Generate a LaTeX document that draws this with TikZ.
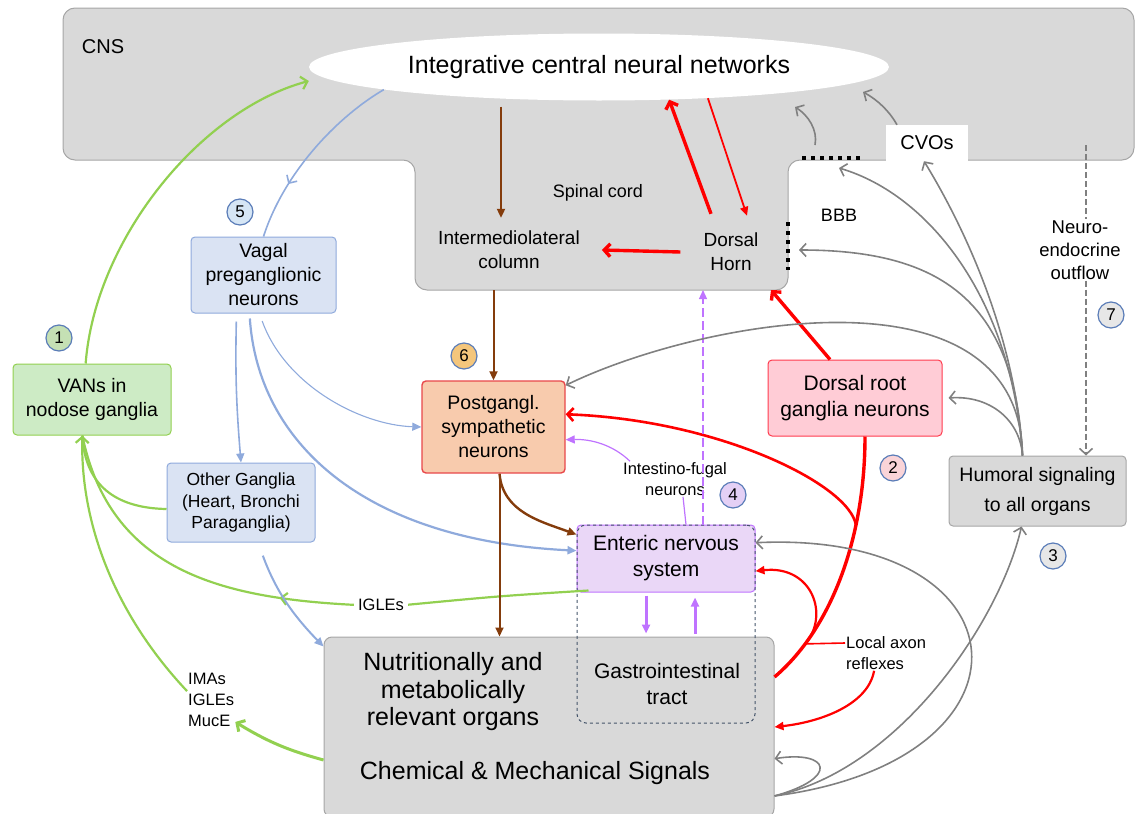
\documentclass[tikz,border=0pt]{standalone}
\usepackage{fontspec}
\setmainfont{Liberation Sans}
\usepackage{tikz}
\usetikzlibrary{positioning, arrows.meta, shapes.geometric, calc, decorations.markings}
\usepackage{xcolor}

\definecolor{cnsgray}{HTML}{D9D9D9}
\definecolor{cnsline}{HTML}{A6A6A6}
\definecolor{vagalfill}{HTML}{DAE3F3}
\definecolor{vagalline}{HTML}{8FAADC}
\definecolor{vanfill}{HTML}{CDEBC5}
\definecolor{postfill}{HTML}{F8CBAD}
\definecolor{postline}{HTML}{E8474A}
\definecolor{drgfill}{HTML}{FFCCD6}
\definecolor{drgline}{HTML}{FF3B4E}
\definecolor{ensfill}{HTML}{EAD7F7}
\definecolor{dashblue}{HTML}{44546A}
\definecolor{vgreen}{HTML}{92D050}
\definecolor{vblue}{HTML}{8FAADC}
\definecolor{vbrown}{HTML}{843C0C}
\definecolor{vred}{HTML}{FF0000}
\definecolor{vviolet}{HTML}{BF73FF}
\definecolor{vgrey}{HTML}{808080}
\definecolor{numblue}{HTML}{5B7DB8}
\definecolor{numgreen}{HTML}{C5E0B4}
\definecolor{numpink}{HTML}{FAD4D8}
\definecolor{numgrey}{HTML}{E7E7E7}
\definecolor{numviolet}{HTML}{E4D0F5}
\definecolor{numblueb}{HTML}{D6E6F5}
\definecolor{numgold}{HTML}{F4C67C}

\newcommand{\fsz}[2]{\fontsize{#1pt}{#2pt}\selectfont}

\begin{document}
\begin{tikzpicture}[
        x=1pt, y=1pt,
        box/.style   = {draw, rounded corners=4pt, align=center, inner sep=0pt, line width=1pt, font=\fsz{19.5}{24}},
        lbl/.style   = {align=center, inner sep=1pt, font=\fsz{19}{24}},
        small/.style = {align=center, inner sep=1pt, font=\fsz{16.5}{21}},
        numc/.style  = {circle, draw=numblue, line width=1.2pt, minimum size=26pt, inner sep=0pt, font=\fsz{17}{19}},
        gline/.style  = {draw=vgreen, line width=2.2pt},
        bline/.style  = {draw=vblue, line width=1.6pt},
        brline/.style = {draw=vbrown, line width=2pt},
        rline/.style  = {draw=vred, line width=2.2pt},
        vline/.style  = {draw=vviolet, line width=1.2pt},
        gyline/.style = {draw=vgrey, line width=1.6pt},
        barb/.style = {-{Straight Barb[length=6pt, width=13pt]}},
        tri/.style  = {-{Triangle[length=9pt, width=8pt]}},
        midtip/.style = {postaction={decorate}, decoration={markings,
            mark=at position #1 with {\arrow{Straight Barb[length=6pt, width=12pt]}}}},
    ]
    \useasboundingbox (0,0) rectangle (1136,-814);

    % CNS and spinal cord
    \draw[draw=cnsline, fill=cnsgray, line width=1pt, rounded corners=12pt]
        (63,-8) -- (1134,-8) -- (1134,-160) -- (788,-160) -- (788,-290)
        -- (415,-290) -- (415,-160) -- (63,-160) -- cycle;
    \coordinate (sc-sw) at (415,-290);
    \coordinate (sc-se) at (788,-290);
    \coordinate (cns-a) at (795,-107);
    \coordinate (cns-b) at (863,-92);
    \coordinate (bbb-top) at (815,-145);
    \coordinate (bbb-h) at (839,-168);
    \coordinate (bbb-v) at (799,-250);
    \coordinate (neuro-src) at (1086,-145);

    \draw[line width=4pt, dash pattern=on 4pt off 5pt] (802,-158) -- (863,-158);
    \draw[line width=4pt, dash pattern=on 4pt off 5pt] (788,-222) -- (788,-270);

    \node[ellipse, fill=white, minimum width=580pt, minimum height=67pt, inner sep=0pt, font=\fsz{25}{30}] (icn) at (599,-67) {Integrative central neural networks};
    \node[fill=white, minimum width=82pt, minimum height=36pt, inner sep=0pt, font=\fsz{20}{24}] (cvo) at (927,-143) {CVOs};

    \node[inner sep=1pt, font=\fsz{20}{24}] (cns) at (103,-47) {CNS};
    \node[lbl, font=\fsz{18}{22}] (spinal) at (598,-193) {Spinal cord};
    \node[lbl] (iml) at (509,-250) {Intermediolateral\\column};
    \node[lbl] (dh) at (731,-252) {Dorsal\\Horn};
    \node[lbl, font=\fsz{18}{22}] (bbb) at (839,-215) {BBB};
    \node[lbl, font=\fsz{18.5}{23}] (neuro) at (1080,-250) {Neuro-\\endocrine\\outflow};

    % boxes
    \node[box, fill=vagalfill, draw=vagalline, minimum width=145pt, minimum height=76pt] (vagal) at (263.5,-275) {Vagal\\preganglionic\\neurons};
    \node[box, fill=vanfill, draw=vgreen, minimum width=158pt, minimum height=71pt] (van) at (92,-399.5) {VANs in\\nodose ganglia};
    \node[box, fill=vagalfill, draw=vagalline, minimum width=148pt, minimum height=79pt, font=\fsz{17.5}{21.5}] (oth) at (241,-502.5) {Other Ganglia\\(Heart, Bronchi\\Paraganglia)};
    \node[box, fill=postfill, draw=postline, line width=1.4pt, minimum width=143pt, minimum height=92pt] (post) at (493.5,-427) {Postgangl.\\sympathetic\\neurons};
    \node[box, fill=drgfill, draw=drgline, minimum width=174pt, minimum height=76pt, font=\fsz{21}{26}] (drg) at (855,-398) {Dorsal root\\ganglia neurons};
    \node[box, fill=cnsgray, draw=cnsline, minimum width=177pt, minimum height=70pt, font=\fsz{19.5}{30}] (hum) at (1037.5,-491) {Humoral signaling\\to all organs};
    \node[box, fill=cnsgray, draw=cnsline, rounded corners=8pt, minimum width=450pt, minimum height=180pt] (org) at (549,-727) {};
    \node[box, fill=ensfill, draw=vviolet, minimum width=178pt, minimum height=67pt, font=\fsz{21}{26}] (ens) at (666,-558.5) {Enteric nervous\\system};
    \node[draw=dashblue, line width=1pt, dashed, rounded corners=9pt, minimum width=178pt, minimum height=198pt] (gibox) at (666,-624) {};
    \node[inner sep=1pt, align=center, font=\fsz{21}{26}] (gi) at (667,-684) {Gastrointestinal\\tract};
    \node[inner sep=1pt, align=center, font=\fsz{25}{27.5}] (orgtxt) at (453,-692) {Nutritionally and\\metabolically\\relevant organs};
    \node[inner sep=1pt, font=\fsz{25}{30}] (chem) at (535,-773) {Chemical \& Mechanical Signals};

    % small labels
    \node[small] (fugal) at (675,-479) {Intestino-fugal\\neurons};
    \node[small, align=left, anchor=west] (lar) at (845,-653) {Local axon\\reflexes};
    \node[small, align=left, anchor=west] (ima) at (187,-700) {IMAs\\IGLEs\\MucE};
    \node[small] (igl) at (381,-605) {IGLEs};

    % numbers
    \node[numc, fill=numgreen] (n1) at (59,-338) {1};
    \node[numc, fill=numpink] (n2) at (893,-468) {2};
    \node[numc, fill=numgrey] (n3) at (1053,-556) {3};
    \node[numc, fill=numviolet] (n4) at (733,-495) {4};
    \node[numc, fill=numblueb] (n5) at (240,-212) {5};
    \node[numc, fill=numgold] (n6) at (464,-356) {6};
    \node[numc, fill=numgrey] (n7) at (1111,-315) {7};

    % vagal afferents
    \draw[gline, barb] (van.100) .. controls (95,-240) and (200,-110) .. ([yshift=-14pt]icn.west);
    \draw[gline] (oth.185) .. controls (115,-508) and (85,-485) .. (van.-105);
    \draw[gline, shorten <=3pt, midtip=0.22] (igl.west) .. controls (220,-598) and (110,-570) .. (van.-105);
    \draw[gline, shorten >=3pt] ([xshift=12pt,yshift=2pt]ens.south west) .. controls (500,-596) .. (igl.east);
    \draw[gline, barb] ([yshift=-19pt]ima.north west) .. controls (120,-620) and (80,-530) .. (van.-105);
    \draw[gline, line width=3pt, barb] ([yshift=-33pt]org.west) to[bend left=8] ([yshift=6pt]ima.south east);

    % vagal efferents
    \draw[bline, midtip=0.7] (icn.186) .. controls (340,-115) and (285,-170) .. (vagal.north);
    \draw[bline, tri, shorten <=8pt] ([xshift=-27pt]vagal.south) to[bend right=3] (oth.north);
    \draw[bline, line width=1.1pt, tri, shorten <=8pt] ([xshift=-4pt]vagal.south) .. controls (285,-385) and (360,-425) .. (post.west);
    \draw[bline, line width=2.2pt, tri, shorten <=5pt] ([xshift=-14pt]vagal.south) .. controls (258,-440) and (360,-540) .. (ens.175);
    \draw[bline, line width=2pt, tri, shorten <=14pt] ([xshift=17pt]oth.south) to[bend right=12] ([yshift=-10pt]org.north west);

    % sympathetic
    \draw[brline, tri, shorten >=12pt] ([xshift=-98pt,yshift=-6pt]icn.south) -- ([xshift=-8pt]iml.north);
    \draw[brline, tri] (post.north |- sc-sw) -- (post.north);
    \draw[brline, tri] ([xshift=6pt]post.south) -- ($(post.south |- org.north)+(6,0)$);
    \draw[brline, line width=2.4pt, tri] ([xshift=6pt]post.south) to[out=-85, in=160] (ens.165);

    % spinal afferents
    \draw[rline, line width=3.4pt, barb] ([xshift=-20pt,yshift=18pt]dh.north) -- (icn.-25);
    \draw[rline, line width=1.8pt, tri] (icn.-16.5) -- ([xshift=16pt,yshift=16pt]dh.north);
    \draw[rline, line width=3.4pt, barb] ([xshift=-22pt]dh.west) -- ([xshift=21pt]iml.east);
    \draw[rline, line width=3.4pt] ([yshift=50pt]org.east) .. controls (830,-630) and (865,-540) .. ([xshift=10pt]drg.south)
        coordinate[pos=0.2] (r-local) coordinate[pos=0.7] (r-split);
    \draw[rline, line width=3.4pt, barb] ([xshift=-25pt]drg.north) -- ([xshift=-17pt]sc-se);
    \draw[rline, line width=2.6pt, barb] (r-split) .. controls (850,-485) and (720,-420) .. (post.10);
    \draw[rline, tri] (r-local) .. controls (830,-615) and (812,-565) .. (ens.-8);
    \draw[rline, line width=1.6pt] ([yshift=10pt]lar.west) -- (r-local);
    \draw[rline, tri] ([xshift=-12pt]lar.south) .. controls (868,-705) and (820,-722) .. (org.east);

    % enteric
    \draw[vline, dash pattern=on 9pt off 4pt, tri] ([xshift=37pt]ens.north) -- ($(ens.north |- sc-sw)+(37,0)$);
    \draw[vline] ([xshift=20pt]ens.north) -- ([xshift=8pt]fugal.south);
    \draw[vline, tri] ([xshift=-45pt]fugal.north) .. controls (612,-444) and (590,-439) .. (post.-10);
    \draw[vline, line width=3pt, tri, shorten <=3pt, shorten >=3pt] ([xshift=-20pt]ens.south) -- ($(ens.south |- org.north)+(-20,0)$);
    \draw[vline, line width=3pt, tri, shorten <=3pt, shorten >=5pt] ($(ens.south |- org.north)+(29,0)$) -- ([xshift=29pt]ens.south);

    % humoral
    \draw[gyline, barb] (bbb-top) .. controls (818,-130) and (808,-115) .. (cns-a);
    \draw[gyline, barb] ([xshift=-30pt]cvo.north) .. controls (890,-112) and (878,-100) .. (cns-b);
    \draw[gyline, barb] ([xshift=-15pt]hum.north) .. controls (1015,-330) and (960,-220) .. ([xshift=-3pt]cvo.south);
    \draw[gyline, barb] ([xshift=-15pt]hum.north) .. controls (1012,-300) and (930,-195) .. (bbb-h);
    \draw[gyline, barb] ([xshift=-15pt]hum.north) .. controls (1015,-300) and (940,-250) .. (bbb-v);
    \draw[gyline, barb] ([xshift=-15pt]hum.north) .. controls (1020,-420) and (990,-395) .. ([xshift=6pt]drg.east);
    \draw[gyline, barb] ([xshift=-15pt]hum.north) .. controls (1020,-260) and (700,-320) .. (post.30);
    \draw[gyline, barb] (org.-17) .. controls (1050,-760) and (1030,-530) .. (ens.10);
    \draw[gyline, barb] (org.-17) .. controls (900,-770) and (1000,-620) .. ([xshift=-16pt]hum.south);
    \draw[gyline, barb] (org.-17) .. controls (840,-778) and (830,-750) .. (org.-8);
    \draw[gyline, dash pattern=on 6pt off 3pt] (neuro-src) -- ([xshift=6pt]neuro.north);
    \draw[gyline, dash pattern=on 6pt off 3pt, barb] ([xshift=6pt]neuro.south) -- ([xshift=48.5pt]hum.north);
\end{tikzpicture}
\end{document}
